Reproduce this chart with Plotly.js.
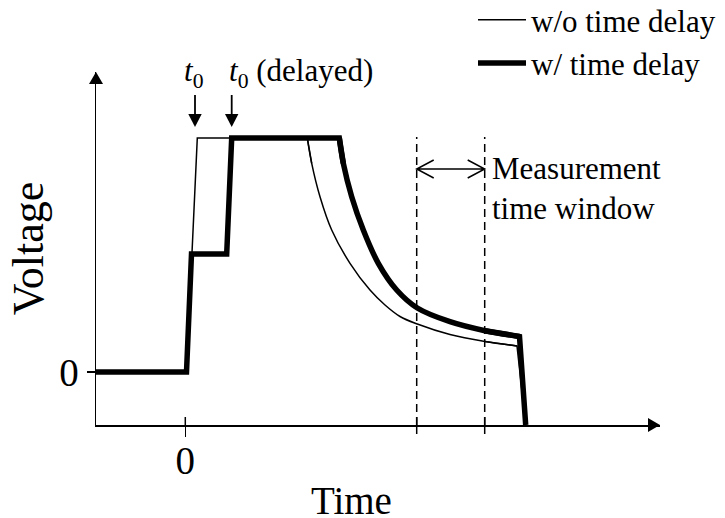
<!DOCTYPE html>
<html>
<head>
<meta charset="utf-8">
<script src="https://cdn.plot.ly/plotly-3.0.1.min.js"></script>
<style>
  html, body { margin: 0; padding: 0; background: #fff; }
  #chart { width: 725px; height: 518px; }
</style>
</head>
<body>
<div id="chart"></div>
<script>
// ---- data (arbitrary schematic units: time, voltage) ----
// w/o time delay (thin)
const thinTime    = [-8.93, 0.12, 1.20, 12.20, 12.64, 13.47, 14.64, 16.47, 18.47, 19.97, 21.47, 23.20, 26.47, 29.97, 33.17, 34.04];
const thinVoltage = [0, 0, 23.4, 23.4, 20.87, 17.53, 14.2, 10.87, 8.2, 6.7, 5.55, 4.8, 3.75, 3.05, 2.6, -5.3];
// w/ time delay (thick)
const thickTime    = [-8.93, 0.12, 0.62, 4.14, 4.64, 15.40, 15.80, 16.64, 17.80, 19.30, 21.14, 23.20, 26.47, 29.97, 33.42, 34.04];
const thickVoltage = [0, 0, 11.8, 11.8, 23.4, 23.4, 20.87, 17.53, 14.2, 10.87, 8.2, 6.4, 5.03, 4.13, 3.55, -5.3];
// measurement time window edges
const windowEdges = [23.14, 29.94];
// tick labels
const xTickVals = [0];
const xTickText = ['0'];
const yTickVals = [0];
const yTickText = ['0'];
const seriesNames = ['w/o time delay', 'w/ time delay'];
// t0 markers (time of reaching the top)
const t0Times = [0.97, 4.64];

// ---- layout constants ----
const FONT = 'Liberation Serif, Times New Roman, serif';
const M = {l: 96, r: 65, t: 72, b: 93, autoexpand: false};
const W = 725 - M.l - M.r, H = 518 - M.t - M.b;
const xRange = [-8.93, 47.47];
const yRange = [-5.3, 30.0];
const ux = (xRange[1] - xRange[0]) / W; // data units per px
const uy = (yRange[1] - yRange[0]) / H;

function parts(xs, ys, stepEnd, decayStart, decayEnd) {
  return {
    step:  [xs.slice(0, stepEnd), ys.slice(0, stepEnd)],
    decay: [xs.slice(decayStart, decayEnd), ys.slice(decayStart, decayEnd)],
    drop:  [xs.slice(decayEnd - 2), ys.slice(decayEnd - 2)]
  };
}
const thinP = parts(thinTime, thinVoltage, 5, 3, 15);
const thickP = parts(thickTime, thickVoltage, 7, 5, 15);

function mk(p, name, width, group) {
  const line = {color: '#000', width: width};
  return [
    {x: p.step[0], y: p.step[1], mode: 'lines', name: name, legendgroup: group, line: line, hoverinfo: 'skip'},
    {x: p.decay[0], y: p.decay[1], mode: 'lines', showlegend: false, legendgroup: group,
     line: Object.assign({}, line, {shape: 'spline', smoothing: 1}), hoverinfo: 'skip'},
    {x: p.drop[0], y: p.drop[1], mode: 'lines', showlegend: false, legendgroup: group, line: line, hoverinfo: 'skip'}
  ];
}
const data = [].concat(mk(thinP, seriesNames[0], 1.5, 'thin'), mk(thickP, seriesNames[1], 5.5, 'thick'));

const shapes = [];
// axis arrowheads
const ahL = 12, ahW = 7;
shapes.push({type: 'path', xref: 'paper', yref: 'paper',
  path: `M0,1 L${ahW / W},${1 - ahL / H} L${-ahW / W},${1 - ahL / H} Z`,
  fillcolor: '#000', line: {width: 0}});
shapes.push({type: 'path', xref: 'paper', yref: 'paper',
  path: `M1,0 L${1 - ahL / W},${ahW / H} L${1 - ahL / W},${-ahW / H} Z`,
  fillcolor: '#000', line: {width: 0}});
// inside part of the 0 tick, and full crossing ticks at window edges
xTickVals.forEach(v => shapes.push({type: 'line', xref: 'x', yref: 'paper', x0: v, x1: v, y0: 0, y1: 8 / H,
  line: {color: '#000', width: 1.5}}));
windowEdges.forEach(v => shapes.push({type: 'line', xref: 'x', yref: 'paper', x0: v, x1: v, y0: -9 / H, y1: 8 / H,
  line: {color: '#000', width: 1.5}}));
// dashed window lines
const dashTop = 23.5;
windowEdges.forEach(v => shapes.push({type: 'line', xref: 'x', yref: 'y', x0: v, x1: v, y0: yRange[0], y1: dashTop,
  line: {color: '#000', width: 1.5, dash: '8px,5px'}}));
// double-headed open arrow between window edges
const arrY = 20.3, chL = 17 * ux, chH = 9 * uy;
const a0 = windowEdges[0], a1 = windowEdges[1];
shapes.push({type: 'path', xref: 'x', yref: 'y',
  path: `M${a0 + chL},${arrY + chH} L${a0},${arrY} L${a0 + chL},${arrY - chH} M${a0},${arrY} L${a1},${arrY} ` +
        `M${a1 - chL},${arrY + chH} L${a1},${arrY} L${a1 - chL},${arrY - chH}`,
  line: {color: '#000', width: 1.5}});
// down arrows at t0
const shaftTop = 27.7, tipY = 24.5, headL = 13 * uy, headW = 6.7 * ux;
t0Times.forEach(t => {
  shapes.push({type: 'line', xref: 'x', yref: 'y', x0: t, x1: t, y0: shaftTop, y1: tipY + headL * 0.8,
    line: {color: '#000', width: 1.8}});
  shapes.push({type: 'path', xref: 'x', yref: 'y',
    path: `M${t},${tipY} L${t - headW},${tipY + headL} L${t + headW},${tipY + headL} Z`,
    fillcolor: '#000', line: {width: 0}});
});

const annotations = [
  {xref: 'x', yref: 'y', x: 0.87, y: 29.9, text: '<i>t</i><sub>0</sub>', showarrow: false,
   xanchor: 'center', yanchor: 'middle', font: {family: FONT, size: 31, color: '#000'}},
  {xref: 'x', yref: 'y', x: 4.14, y: 29.9, text: '<i>t</i><sub>0</sub> (delayed)', showarrow: false,
   xanchor: 'left', yanchor: 'middle', font: {family: FONT, size: 31, color: '#000'}},
  {xref: 'x', yref: 'y', x: 30.45, y: 18.4, text: 'Measurement<br>time window', showarrow: false,
   xanchor: 'left', yanchor: 'middle', align: 'left', font: {family: FONT, size: 31, color: '#000'}},
  {xref: 'x', yref: 'paper', x: 16.57, y: 0, yshift: -75, text: 'Time', showarrow: false,
   xanchor: 'center', yanchor: 'middle', font: {family: FONT, size: 39, color: '#000'}}
];

const layout = {
  width: 725, height: 518,
  margin: M,
  paper_bgcolor: '#fff', plot_bgcolor: '#fff',
  font: {family: FONT, color: '#000'},
  showlegend: true,
  legend: {x: (473 - M.l) / W, y: 1 + (M.t + 7) / H, xanchor: 'left', yanchor: 'top',
    bgcolor: 'rgba(0,0,0,0)', borderwidth: 0, font: {family: FONT, size: 31, color: '#000'},
    itemwidth: 48, tracegroupgap: 0},
  xaxis: {range: xRange, showgrid: false, zeroline: false, showline: true, linecolor: '#000', linewidth: 1.5,
    tickmode: 'array', tickvals: xTickVals, ticktext: xTickText, ticks: 'outside', ticklen: 10, tickwidth: 1.5,
    tickcolor: '#000', tickfont: {family: FONT, size: 39, color: '#000'}, ticklabelstandoff: -9, fixedrange: true},
  yaxis: {range: yRange, showgrid: false, zeroline: false, showline: true, linecolor: '#000', linewidth: 1.5,
    tickmode: 'array', tickvals: yTickVals, ticktext: yTickText, ticks: 'outside', ticklen: 8, tickwidth: 1.5,
    tickcolor: '#000', tickfont: {family: FONT, size: 39, color: '#000'}, fixedrange: true,
    title: {text: 'Voltage', font: {family: FONT, size: 44, color: '#000'}, standoff: 2}},
  shapes: shapes,
  annotations: annotations
};

Plotly.newPlot('chart', data, layout, {displayModeBar: false, staticPlot: true});
</script>
</body>
</html>
